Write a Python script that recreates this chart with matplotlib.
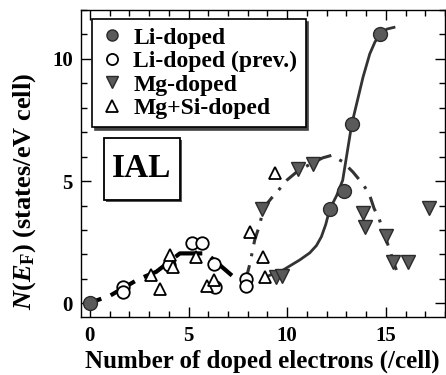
import matplotlib
matplotlib.use("Agg")
import matplotlib.pyplot as plt
from matplotlib.ticker import MultipleLocator
from matplotlib.patches import Rectangle

plt.rcParams['font.family'] = ['Liberation Serif', 'DejaVu Serif']
plt.rcParams['font.weight'] = 'bold'
plt.rcParams['mathtext.fontset'] = 'custom'
plt.rcParams['mathtext.rm'] = 'Liberation Serif:bold'
plt.rcParams['mathtext.it'] = 'Liberation Serif:bold:italic'
plt.rcParams['mathtext.bf'] = 'Liberation Serif:bold'

# ---- data ----
li_x = [0.0, 12.15, 12.88, 13.28, 14.70]
li_y = [0.0, 3.84, 4.60, 7.32, 11.0]

prev_x = [1.70, 1.70, 4.02, 5.15, 5.69, 6.30, 6.33, 7.90, 7.90]
prev_y = [0.65, 0.47, 1.56, 2.47, 2.45, 1.59, 0.68, 0.98, 0.71]

mg_x = [8.70, 9.45, 9.75, 10.55, 11.30, 13.82, 13.95, 15.02, 15.36, 16.13, 17.17]
mg_y = [3.85, 1.09, 1.12, 5.50, 5.71, 3.70, 3.13, 2.76, 1.70, 1.68, 3.88]

mgsi_x = [3.12, 3.54, 4.08, 4.20, 5.37, 5.96, 6.30, 8.10, 8.78, 8.86, 9.37]
mgsi_y = [1.16, 0.57, 1.97, 1.50, 1.90, 0.71, 0.95, 2.92, 1.90, 1.09, 5.31]

# guide curves
prev_fit_x = [0.1, 1.0, 2.45, 3.37, 4.56, 5.9, 7.26]
prev_fit_y = [0.05, 0.30, 0.98, 1.29, 2.04, 2.04, 1.09]

li_fit_x = [8.95, 9.79, 10.63, 11.14, 11.48, 11.73, 11.95, 12.15, 12.50, 12.81, 13.27, 13.84, 14.18, 14.45, 14.72, 15.05, 15.41]
li_fit_y = [1.09, 1.36, 1.77, 2.06, 2.36, 2.72, 3.22, 3.84, 4.40, 5.03, 7.33, 9.25, 10.2, 10.7, 11.0, 11.22, 11.29]

mg_fit_x = [7.9, 8.1, 8.35, 8.6, 8.8, 9.2, 9.55, 10.0, 10.55, 11.3, 11.8, 12.24, 12.8, 13.33, 13.75, 14.14, 14.4, 14.65, 14.85, 15.1, 15.36, 15.53]
mg_fit_y = [0.95, 1.59, 2.58, 3.2, 3.9, 4.3, 4.62, 5.05, 5.42, 5.75, 5.95, 6.05, 5.8, 5.37, 4.96, 4.51, 3.88, 3.47, 2.99, 2.4, 1.77, 1.36]

xticks = [0, 5, 10, 15]
yticks = [0, 5, 10]

fig = plt.figure(figsize=(4.46, 3.75), dpi=100)
ax = fig.add_axes([0.1816, 0.1555, 0.8164, 0.8178])

ax.plot(prev_fit_x, prev_fit_y, color='black', lw=3.0, ls=(4.3, (6.7, 2.4)), zorder=2)
ax.plot(li_fit_x, li_fit_y, color='#333333', lw=2.0, ls='-', zorder=2)
ax.plot(mg_fit_x, mg_fit_y, color='#333333', lw=2.2, ls=(0, (5, 3, 1, 3)), zorder=2)

grey = '#5a5a5a'
ax.plot(li_x, li_y, 'o', ms=10, mfc=grey, mec='#2a2a2a', mew=1.0, ls='none', zorder=4, label='Li-doped')
ax.plot(prev_x, prev_y, 'o', ms=9, mfc='white', mec='black', mew=1.3, ls='none', zorder=3, label='Li-doped (prev.)')
ax.plot(mg_x, mg_y, 'v', ms=10, mfc=grey, mec='#2a2a2a', mew=1.0, ls='none', zorder=4, label='Mg-doped')
ax.plot(mgsi_x, mgsi_y, '^', ms=9, mfc='white', mec='black', mew=1.3, ls='none', zorder=3, label='Mg+Si-doped')

ax.set_xlim(-0.45, 18.0)
ax.set_ylim(-0.55, 12.0)
ax.set_xticks(xticks)
ax.set_yticks(yticks)
ax.xaxis.set_minor_locator(MultipleLocator(1))
ax.yaxis.set_minor_locator(MultipleLocator(1))
ax.tick_params(which='both', direction='in', top=True, right=True, labelsize=15, width=1.0)
ax.tick_params(which='major', length=7)
ax.tick_params(which='minor', length=4.5)
ax.tick_params(axis='x', which='major', pad=6.5)
ax.tick_params(axis='y', which='major', pad=6)
for lab in ax.get_xticklabels() + ax.get_yticklabels():
    lab.set_fontweight('bold')
for s in ax.spines.values():
    s.set_linewidth(1.0)

ax.set_xlabel('Number of doped electrons (/cell)', fontsize=18, fontweight='bold')
ax.xaxis.set_label_coords(0.498, -0.106)
ax.set_ylabel(r'$N(E_{\mathrm{F}})$ (states/eV cell)', fontsize=19, fontweight='bold')
ax.yaxis.set_label_coords(-0.118, 0.407)

leg = ax.legend(loc='upper left', bbox_to_anchor=(0.03, 0.971), frameon=True, fancybox=False,
                shadow={'color': '#444444', 'alpha': 1.0}, edgecolor='black', framealpha=1.0,
                prop={'size': 17, 'weight': 'bold'}, handletextpad=0.4, borderpad=0.35,
                labelspacing=0.08, handlelength=1.0, borderaxespad=0)
leg.get_frame().set_linewidth(1.2)
for h in leg.legend_handles:
    h.set_markersize(8)

# IAL label box
x0, y0, x1, y1 = 0.0632, 0.3805, 0.272, 0.5827
ax.add_patch(Rectangle((x0 + 0.006, y0 - 0.008), x1 - x0, y1 - y0, transform=ax.transAxes,
                       fc='#555555', ec='none', zorder=5))
ax.add_patch(Rectangle((x0, y0), x1 - x0, y1 - y0, transform=ax.transAxes,
                       fc='white', ec='black', lw=1.3, zorder=6))
ax.text((x0 + x1) / 2, (y0 + y1) / 2, 'IAL', transform=ax.transAxes, fontsize=24, fontweight='bold',
        ha='center', va='center', zorder=7)

fig.savefig('out.png', dpi=100)
